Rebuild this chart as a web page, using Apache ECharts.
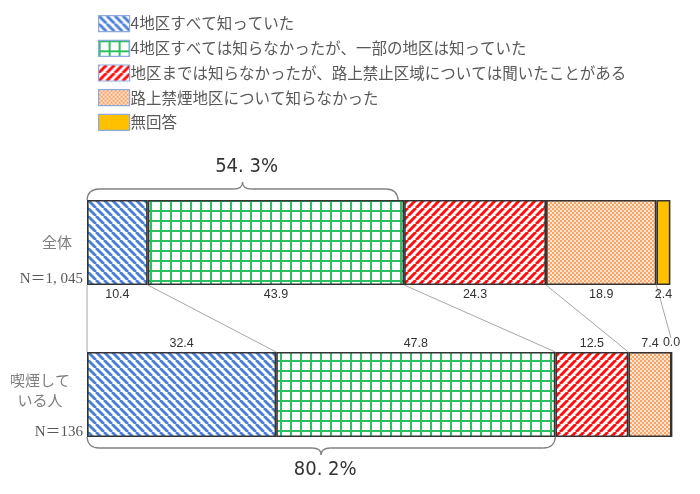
<!DOCTYPE html>
<html>
<head>
<meta charset="utf-8">
<script src="https://cdn.jsdelivr.net/npm/echarts@6/dist/echarts.min.js"></script>
<style>
html,body{margin:0;padding:0;background:#fff;}
#chart{width:700px;height:494px;}
</style>
</head>
<body>
<div id="chart"></div>
<script>
// ---- data ----
const categories = ['全体', '喫煙している人'];
const categoryLines = [['全体'], ['喫煙して', 'いる人']];
const sampleSizes = ['N＝1, 045', 'N＝136'];
const seriesNames = [
  '4地区すべて知っていた',
  '4地区すべては知らなかったが、一部の地区は知っていた',
  '地区までは知らなかったが、路上禁止区域については聞いたことがある',
  '路上禁煙地区について知らなかった',
  '無回答'
];
const valuesAll     = [10.4, 43.9, 24.3, 18.9, 2.4];
const valuesSmokers = [32.4, 47.8, 12.5, 7.4, 0.0];

// ---- patterns ----
function tile(w, h, draw) {
  const c = document.createElement('canvas');
  c.width = w; c.height = h;
  const g = c.getContext('2d');
  draw(g, w, h);
  return { image: c, repeat: 'repeat' };
}
const patBlue = tile(8, 8, (g, s) => {
  g.fillStyle = '#fff'; g.fillRect(0, 0, s, s);
  g.strokeStyle = '#4a7fd6'; g.lineWidth = 2.8;
  for (const x of [-s, 0, s]) { g.beginPath(); g.moveTo(x, 0); g.lineTo(x + s, s); g.stroke(); }
});
const patGreen = tile(10, 10, (g, s) => {
  g.fillStyle = '#fff'; g.fillRect(0, 0, s, s);
  g.fillStyle = '#2fbf63';
  g.fillRect(0, 0, 2, s); g.fillRect(0, 0, s, 2);
});
const patRed = tile(8, 8, (g, s) => {
  g.fillStyle = '#fff'; g.fillRect(0, 0, s, s);
  g.strokeStyle = '#ff1010'; g.lineWidth = 3;
  for (const x of [-s, 0, s]) { g.beginPath(); g.moveTo(x, s); g.lineTo(x + s, 0); g.stroke(); }
});
const patOrange = tile(4, 4, (g, s) => {
  g.fillStyle = '#fde2cc'; g.fillRect(0, 0, s, s);
  g.fillStyle = '#f4a66c';
  g.fillRect(0, 0, 2, 2); g.fillRect(2, 2, 2, 2);
});
const colors = [patBlue, patGreen, patRed, patOrange, '#FFC000'];

const chart = echarts.init(document.getElementById('chart'), null, { renderer: 'canvas' });
const BAR_W = 85;

const series = seriesNames.map((name, i) => ({
  name,
  type: 'bar',
  stack: 'total',
  barWidth: BAR_W,
  clip: false,
  itemStyle: { color: colors[i], borderColor: '#333', borderWidth: 1.6 },
  label: {
    show: true,
    color: '#333',
    fontSize: 12.5,
    fontFamily: 'Liberation Sans, Arial, sans-serif',
    formatter: p => Number(p.value).toFixed(1)
  },
  emphasis: { disabled: true },
  data: [
    { value: valuesAll[i], label: { position: 'bottom', distance: 3 } },
    { value: valuesSmokers[i], label: { position: 'top', distance: 2 } }
  ]
}));

chart.setOption({
  animation: false,
  legend: {
    orient: 'vertical',
    left: 93,
    top: 10,
    icon: 'rect',
    itemWidth: 31,
    itemHeight: 16,
    itemGap: 7.5,
    selectedMode: false,
    itemStyle: { borderColor: '#8faadc', borderWidth: 1.2 },
    textStyle: { fontSize: 15.5, color: '#595959', fontFamily: 'Noto Sans CJK JP', padding: [0, 0, 0, -4] },
    data: seriesNames
  },
  grid: { left: 87, right: 29, top: 166.5, bottom: 23.5, containLabel: false },
  xAxis: { type: 'value', min: 0, max: 100, show: false },
  yAxis: { type: 'category', data: categories, inverse: true, show: false },
  series
});

// ---- annotations from scales ----
function px(v, idx) { return chart.convertToPixel({ gridIndex: 0 }, [v, idx]); }
function cum(arr, k) { let s = 0; for (let i = 0; i < k; i++) s += arr[i]; return s; }

const topCenterY = px(0, 0)[1];
const botCenterY = px(0, 1)[1];
const topBarTop = topCenterY - BAR_W / 2, topBarBottom = topCenterY + BAR_W / 2;
const botBarTop = botCenterY - BAR_W / 2, botBarBottom = botCenterY + BAR_W / 2;

const graphics = [];
// connector lines
for (let k = 0; k < 5; k++) {
  const x1 = px(cum(valuesAll, k), 0)[0];
  const x2 = px(Math.min(cum(valuesSmokers, k), 100), 1)[0];
  let y2 = botBarTop;
  if (k === 4) y2 = botBarTop - 14;
  graphics.push({
    type: 'line', silent: true, z: -1,
    shape: { x1, y1: topBarBottom, x2, y2 },
    style: { stroke: '#a6a6a6', lineWidth: 1 }
  });
}

function brace(xL, xR, yBar, dir, labelText) {
  const yH = yBar + dir * 11;
  const yP = yBar + dir * 18;
  const xm = (xL + xR) / 2;
  const r = 12, r2 = 9;
  const st = { stroke: '#808080', lineWidth: 1.3, fill: 'none' };
  const parts = [
    { type: 'bezierCurve', shape: { x1: xL, y1: yBar, x2: xL + r, y2: yH, cpx1: xL + 1, cpy1: yH } },
    { type: 'line', shape: { x1: xL + r, y1: yH, x2: xm - r2, y2: yH } },
    { type: 'bezierCurve', shape: { x1: xm - r2, y1: yH, x2: xm, y2: yP, cpx1: xm, cpy1: yH } },
    { type: 'bezierCurve', shape: { x1: xm, y1: yP, x2: xm + r2, y2: yH, cpx1: xm, cpy1: yH } },
    { type: 'line', shape: { x1: xm + r2, y1: yH, x2: xR - r, y2: yH } },
    { type: 'bezierCurve', shape: { x1: xR - r, y1: yH, x2: xR, y2: yBar, cpx1: xR - 1, cpy1: yH } }
  ];
  parts.forEach(p => { p.style = st; p.silent = true; graphics.push(p); });
  graphics.push({
    type: 'text', silent: true,
    x: xm + 4, y: yP + dir * 15,
    style: {
      text: labelText, align: 'center', verticalAlign: 'middle',
      font: '20px "Liberation Sans Narrow", "DejaVu Sans Condensed", "Noto Sans CJK JP", sans-serif',
      fill: '#333'
    }
  });
}
const sumTop = cum(valuesAll, 2), sumBot = cum(valuesSmokers, 2);
brace(px(0, 0)[0], px(sumTop, 0)[0] - 6, topBarTop, -1, sumTop.toFixed(1).replace('.', '. ') + '%');
brace(px(0, 1)[0], px(sumBot, 1)[0], botBarBottom, 1, sumBot.toFixed(1).replace('.', '. ') + '%');

// category labels
const leftX = px(0, 0)[0];
graphics.push({
  type: 'text', silent: true, x: 57, y: topCenterY,
  style: { text: categoryLines[0].join('\n'), align: 'center', verticalAlign: 'middle',
           font: '15px "Noto Sans CJK JP", sans-serif', fill: '#7f7f7f', lineHeight: 20 }
});
graphics.push({
  type: 'text', silent: true, x: 40, y: botCenterY - 4,
  style: { text: categoryLines[1].join('\n'), align: 'center', verticalAlign: 'middle',
           font: '15px "Noto Sans CJK JP", sans-serif', fill: '#7f7f7f', lineHeight: 20 }
});
[0, 1].forEach(i => {
  const cy = i === 0 ? topBarBottom - 6 : botBarBottom - 5;
  graphics.push({
    type: 'text', silent: true, x: leftX - 4, y: cy,
    style: { text: sampleSizes[i], align: 'right', verticalAlign: 'middle',
             font: '15px "Liberation Serif", "DejaVu Serif", "Noto Sans CJK JP", serif', fill: '#595959' }
  });
});

chart.setOption({ graphic: graphics });
</script>
</body>
</html>
